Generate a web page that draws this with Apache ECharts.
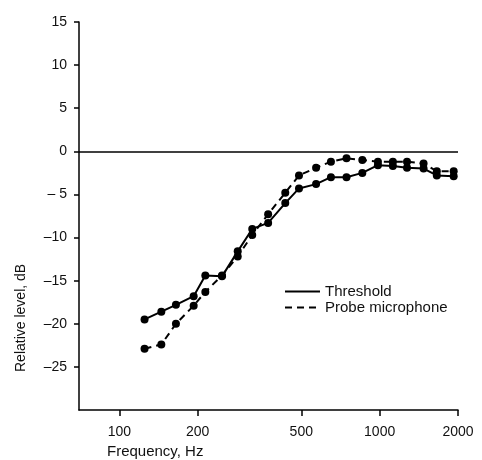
<!DOCTYPE html>
<html>
<head>
<meta charset="utf-8">
<script src="https://cdn.jsdelivr.net/npm/echarts@6/dist/echarts.min.js"></script>
<style>
  html, body { margin: 0; padding: 0; background: #fff; }
  #main { width: 482px; height: 460px; }
</style>
</head>
<body>
<div id="main"></div>
<script>
// frequencies (Hz)
const freqs = [125, 145, 165, 193, 214, 248, 285, 324, 373, 434, 490, 570, 650, 746, 858, 985, 1124, 1274, 1475, 1658, 1925];
const threshold = [-19.5, -18.6, -17.8, -16.8, -14.4, -14.5, -11.6, -9.0, -8.3, -6.0, -4.3, -3.8, -3.0, -3.0, -2.5, -1.6, -1.7, -1.9, -2.0, -2.8, -2.9];
const probe = [-22.9, -22.4, -20.0, -17.9, -16.3, -14.4, -12.2, -9.7, -7.3, -4.8, -2.8, -1.9, -1.2, -0.8, -1.0, -1.2, -1.2, -1.2, -1.4, -2.3, -2.3];
const xTicks = [100, 200, 500, 1000, 2000];
const yTicks = [15, 10, 5, 0, -5, -10, -15, -20, -25];

const chart = echarts.init(document.getElementById('main'));

const font = 'Liberation Sans';

function pairs(vals) {
  return freqs.map((f, i) => [f, vals[i]]);
}

const option = {
  animation: false,
  grid: { left: 79, right: 24, top: 22, bottom: 50 },
  xAxis: {
    type: 'log',
    min: 70,
    max: 2000,
    axisLine: { onZero: false, lineStyle: { color: '#000', width: 1.5 } },
    axisTick: { customValues: xTicks, length: 6, lineStyle: { color: '#000', width: 1.5 } },
    axisLabel: {
      customValues: xTicks,
      color: '#111', fontFamily: font, fontSize: 14, margin: 15,
      formatter: function (v) { return String(Math.round(v)); }
    },
    splitLine: { show: false },
    minorTick: { show: false }
  },
  yAxis: {
    type: 'value',
    min: -30,
    max: 15,
    interval: 5,
    axisLine: { show: true, lineStyle: { color: '#000', width: 1.5 } },
    axisTick: { customValues: yTicks, length: 5, lineStyle: { color: '#000', width: 1.5 } },
    axisLabel: {
      customValues: yTicks,
      color: '#111', fontFamily: font, fontSize: 14, margin: 12,
      formatter: function (v) {
        if (v < 0) return (v === -5 ? '\u2013 ' : '\u2013') + Math.abs(v);
        return String(v);
      }
    },
    splitLine: { show: false }
  },
  legend: {
    orient: 'vertical',
    left: 284,
    top: 284,
    padding: 0,
    itemWidth: 35,
    itemHeight: 15,
    itemGap: 1,
    itemStyle: { opacity: 0 },
    textStyle: { color: '#111', fontFamily: font, fontSize: 15 },
    data: ['Threshold', 'Probe microphone']
  },
  series: [
    {
      name: 'Threshold',
      type: 'line',
      data: pairs(threshold),
      symbol: 'circle',
      symbolSize: 8,
      itemStyle: { color: '#000' },
      lineStyle: { color: '#000', width: 2 },
      markLine: {
        silent: true,
        symbol: 'none',
        label: { show: false },
        lineStyle: { color: '#000', width: 1.5, type: 'solid' },
        data: [{ yAxis: 0 }]
      }
    },
    {
      name: 'Probe microphone',
      type: 'line',
      data: pairs(probe),
      symbol: 'circle',
      symbolSize: 8,
      itemStyle: { color: '#000' },
      lineStyle: { color: '#000', width: 2, type: [7, 5] }
    }
  ],
  graphic: [
    {
      type: 'text',
      left: 107, top: 444,
      style: { text: 'Frequency, Hz', fill: '#111', font: '15px "Liberation Sans"' }
    },
    {
      type: 'text',
      x: 14, y: 372,
      rotation: Math.PI / 2,
      style: { text: 'Relative level, dB', fill: '#111', font: '14px "Liberation Sans"' }
    }
  ]
};

chart.setOption(option);
</script>
</body>
</html>
